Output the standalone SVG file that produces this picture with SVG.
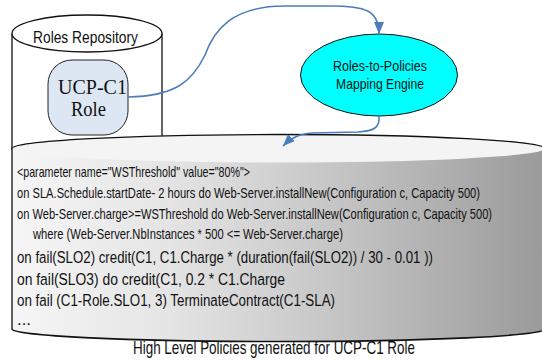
<svg xmlns="http://www.w3.org/2000/svg" width="542" height="363" viewBox="0 0 542 363">
  <style>
    .sans { font-family: "Liberation Sans", Arial, sans-serif; fill: #111; }
    .serif { font-family: "Liberation Serif", "Times New Roman", serif; fill: #111; }
    .outline { fill: none; stroke: #111; stroke-width: 1.3; }
    .flow { fill: none; stroke: #4a7ebb; stroke-width: 1.6; }
    .small { font-size: 14px; }
    .large { font-size: 17px; }
  </style>
  <defs>
    <linearGradient id="drumBody" x1="0" y1="0" x2="1" y2="0">
      <stop offset="0" stop-color="#f6f6f6"/>
      <stop offset="0.3" stop-color="#e4e4e4"/>
      <stop offset="0.6" stop-color="#c6c6c6"/>
      <stop offset="1" stop-color="#9a9a9a"/>
    </linearGradient>
    <marker id="head" markerUnits="userSpaceOnUse" markerWidth="12" markerHeight="10" refX="12" refY="5" orient="auto">
      <path d="M0,0 L12,5 L0,10 Z" fill="#4a7ebb"/>
    </marker>
  </defs>

  <!-- Roles Repository cylinder -->
  <g id="roles-repository">
    <rect x="12" y="33.5" width="150" height="120" fill="#fff"/>
    <path class="outline" d="M12,33.5 L12,150 M162,33.5 L162,145"/>
    <ellipse cx="87" cy="33.5" rx="75" ry="18.5" fill="#fff" stroke="#111" stroke-width="1.3"/>
    <text class="sans" x="33" y="43" font-size="17" textLength="105" lengthAdjust="spacingAndGlyphs">Roles Repository</text>
  </g>

  <!-- UCP-C1 Role -->
  <g id="ucp-c1-role">
    <rect x="48" y="60" width="80" height="75" rx="24" ry="24" fill="#dde7f3" stroke="#222" stroke-width="1"/>
    <text class="serif" x="58" y="93.5" font-size="21" textLength="69" lengthAdjust="spacingAndGlyphs">UCP-C1</text>
    <text class="serif" x="71" y="116" font-size="21" textLength="35" lengthAdjust="spacingAndGlyphs">Role</text>
  </g>

  <!-- Roles-to-Policies Mapping Engine -->
  <g id="mapping-engine">
    <ellipse cx="379" cy="75" rx="78.5" ry="41" fill="#00ffff" stroke="#111" stroke-width="1"/>
    <text class="sans" x="333" y="71" font-size="15.5" textLength="94" lengthAdjust="spacingAndGlyphs">Roles-to-Policies</text>
    <text class="sans" x="336" y="88.5" font-size="15.5" textLength="88" lengthAdjust="spacingAndGlyphs">Mapping Engine</text>
  </g>

  <!-- High Level Policies drum; policy lines are set in a condensed face -->
  <g id="high-level-policies">
    <path d="M12,148.5 L12,329 A266.5,12.5 0 0 0 545,329 L545,148.5 Z" fill="url(#drumBody)"/>
    <ellipse cx="278.5" cy="148.5" rx="266.5" ry="14" fill="#f4f4f4"/>
    <path class="outline" d="M545,148.5 A266.5,14 0 0 0 12,148.5 L12,329"/>
    <path fill="none" stroke="#111" stroke-width="1.6" d="M12,329 A266.5,12.5 0 0 0 545,329"/>
    <text class="sans small" transform="translate(17,177) scale(0.78,1)" textLength="298.7" lengthAdjust="spacingAndGlyphs">&lt;parameter name="WSThreshold" value="80%"&gt;</text>
    <text class="sans small" transform="translate(17,198) scale(0.78,1)" textLength="593.6" lengthAdjust="spacingAndGlyphs">on SLA.Schedule.startDate- 2 hours do Web-Server.installNew(Configuration c, Capacity 500)</text>
    <text class="sans small" transform="translate(17,218.5) scale(0.78,1)" textLength="609" lengthAdjust="spacingAndGlyphs">on Web-Server.charge&gt;=WSThreshold do Web-Server.installNew(Configuration c, Capacity 500)</text>
    <text class="sans small" transform="translate(33,239) scale(0.78,1)" textLength="397.4" lengthAdjust="spacingAndGlyphs">where (Web-Server.NbInstances * 500 &lt;= Web-Server.charge)</text>
    <text class="sans large" transform="translate(17,263) scale(0.78,1)" textLength="533.3" lengthAdjust="spacingAndGlyphs">on fail(SLO2) credit(C1, C1.Charge * (duration(fail(SLO2)) / 30 - 0.01 ))</text>
    <text class="sans large" transform="translate(17,284.5) scale(0.78,1)" textLength="343.6" lengthAdjust="spacingAndGlyphs">on fail(SLO3) do credit(C1, 0.2 * C1.Charge</text>
    <text class="sans large" transform="translate(17,306) scale(0.78,1)" textLength="407.7" lengthAdjust="spacingAndGlyphs">on fail (C1-Role.SLO1, 3) TerminateContract(C1-SLA)</text>
    <text class="sans" x="17" y="325" font-size="16" textLength="14" lengthAdjust="spacingAndGlyphs">...</text>
  </g>

  <!-- Caption -->
  <text class="sans" transform="translate(133,354) scale(0.78,1)" font-size="18" textLength="361.5" lengthAdjust="spacingAndGlyphs">High Level Policies generated for UCP-C1 Role</text>

  <!-- Connectors -->
  <g id="connectors">
    <path class="flow" marker-end="url(#head)" d="M128,97 C175,96 192,82 205,55 C214,30 232,6 285,6 L330,6 C365,6 379,10 379,34"/>
    <path class="flow" marker-end="url(#head)" d="M379,116 C380,127 375,131 358,132 L312,133 C300,134 292,137 283,146"/>
  </g>
</svg>
